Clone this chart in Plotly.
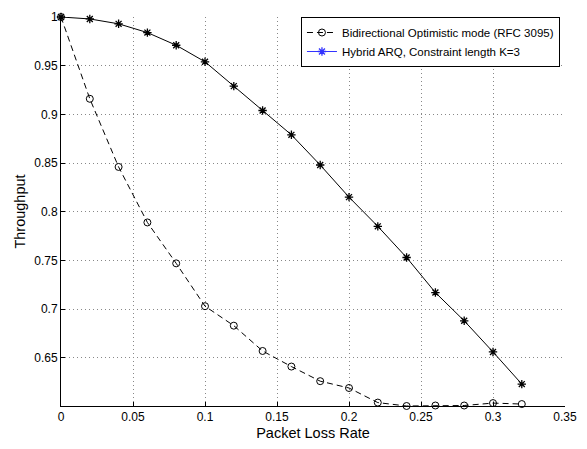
import plotly.graph_objects as go

x_vals = [0, 0.02, 0.04, 0.06, 0.08, 0.10, 0.12, 0.14, 0.16, 0.18, 0.20, 0.22, 0.24, 0.26, 0.28, 0.30, 0.32]
bidirectional = [1.0, 0.916, 0.846, 0.789, 0.747, 0.703, 0.683, 0.657, 0.641, 0.626, 0.619, 0.604, 0.6005, 0.601, 0.601, 0.6035, 0.6025]
hybrid_arq = [1.0, 0.998, 0.993, 0.984, 0.971, 0.954, 0.929, 0.904, 0.879, 0.848, 0.815, 0.785, 0.753, 0.717, 0.688, 0.656, 0.623]

name_bi = "Bidirectional Optimistic mode (RFC 3095)"
name_hy = "Hybrid ARQ, Constraint length K=3"

x_ticks = [0, 0.05, 0.1, 0.15, 0.2, 0.25, 0.3, 0.35]
x_tick_text = ["0", "0.05", "0.1", "0.15", "0.2", "0.25", "0.3", "0.35"]
y_ticks = [0.65, 0.7, 0.75, 0.8, 0.85, 0.9, 0.95, 1.0]
y_tick_text = ["0.65", "0.7", "0.75", "0.8", "0.85", "0.9", "0.95", "1"]

fig = go.Figure()
fig.add_trace(go.Scatter(
    x=x_vals, y=bidirectional, mode="lines+markers", showlegend=False,
    line=dict(color="black", width=1, dash="6px,4px"),
    marker=dict(symbol="circle-open", size=7, color="black", line=dict(width=1)),
    cliponaxis=False,
))
fig.add_trace(go.Scatter(
    x=x_vals, y=hybrid_arq, mode="lines+markers", showlegend=False,
    line=dict(color="black", width=1),
    marker=dict(symbol="asterisk-open", size=7, color="black", line=dict(width=1.3, color="black")),
    cliponaxis=False,
))
# legend entries (MATLAB-style legend appearance)
fig.add_trace(go.Scatter(
    x=[None], y=[None], mode="lines+markers", name=name_bi,
    line=dict(color="black", width=1, dash="6px,4px"),
    marker=dict(symbol="circle-open", size=7, color="black", line=dict(width=1)),
))
fig.add_trace(go.Scatter(
    x=[None], y=[None], mode="lines+markers", name=name_hy,
    line=dict(color="#3333ff", width=1),
    marker=dict(symbol="asterisk-open", size=7, color="#3333ff", line=dict(width=1.3, color="#3333ff")),
))

fig.update_layout(
    width=587, height=449,
    margin=dict(l=61, r=18, t=10, b=38),
    paper_bgcolor="white", plot_bgcolor="white",
    font=dict(family="Liberation Sans, Arial, sans-serif", color="black", size=12),
    legend=dict(
        x=0.99, y=1.0, xanchor="right", yanchor="top",
        bordercolor="black", borderwidth=1, bgcolor="white",
        font=dict(size=11.5), tracegroupgap=0, itemwidth=30,
    ),
)
fig.update_xaxes(
    range=[0, 0.3500001], tickvals=x_ticks, ticktext=x_tick_text,
    showline=True, linecolor="black", linewidth=1,
    ticks="inside", ticklen=4, tickcolor="black",
    showgrid=True, gridcolor="#888888", griddash="1px,3px", gridwidth=1,
    zeroline=False, tickfont=dict(size=12),
    title=dict(text="Packet Loss Rate", font=dict(size=14.5), standoff=4),
)
fig.update_yaxes(
    range=[0.6005, 1.0000001], tickvals=y_ticks, ticktext=y_tick_text,
    showline=True, linecolor="black", linewidth=1,
    ticks="inside", ticklen=4, tickcolor="black",
    showgrid=True, gridcolor="#888888", griddash="1px,3px", gridwidth=1,
    zeroline=False, tickfont=dict(size=12),
    title=dict(text="Throughput", font=dict(size=14.5), standoff=5),
)

fig.write_html("out.html", config={"displayModeBar": False},
               post_script="document.body.style.margin='0';")
